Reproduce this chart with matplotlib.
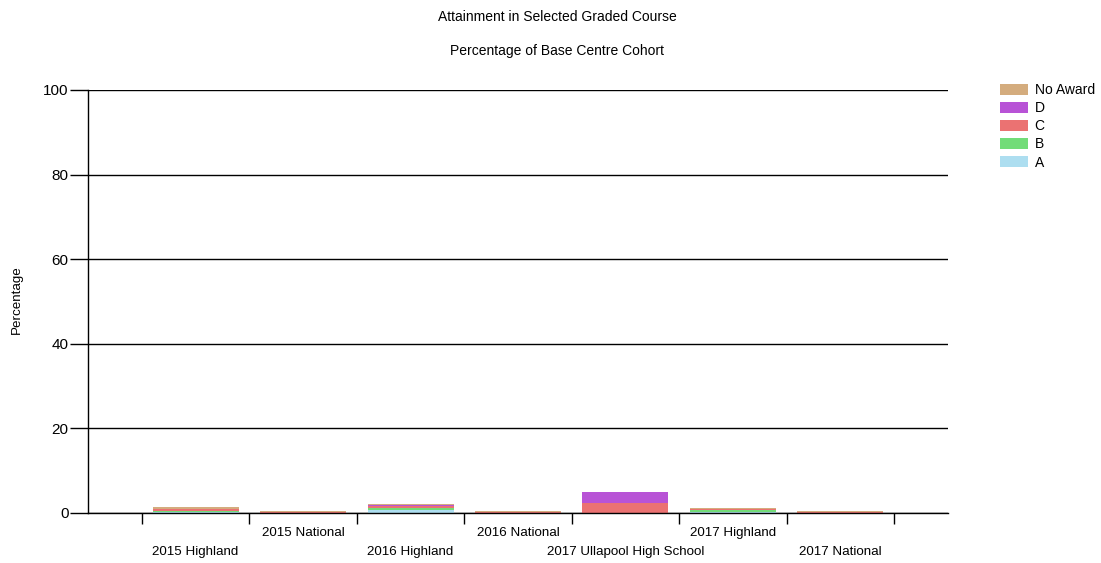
import numpy as np
import matplotlib.pyplot as plt
import matplotlib.transforms as mtransforms

plt.rcParams['font.family'] = ['Liberation Sans', 'DejaVu Sans']

categories = ['2015 Highland', '2015 National', '2016 Highland', '2016 National',
              '2017 Ullapool High School', '2017 Highland', '2017 National']

# percentage of cohort per grade, stacked bottom (A) to top (No Award)
grade_a = [0.25, 0.05, 0.6, 0.05, 0.0, 0.3, 0.05]
grade_b = [0.3, 0.05, 0.5, 0.05, 0.0, 0.3, 0.05]
grade_c = [0.3, 0.05, 0.5, 0.05, 2.44, 0.3, 0.05]
grade_d = [0.2, 0.03, 0.3, 0.03, 2.44, 0.1, 0.03]
no_award = [0.3, 0.2, 0.3, 0.2, 0.0, 0.3, 0.2]

series = [('A', grade_a, '#ADDEF0'),
          ('B', grade_b, '#72DC78'),
          ('C', grade_c, '#EB7272'),
          ('D', grade_d, '#B853D6'),
          ('No Award', no_award, '#D4AC7E')]

fig = plt.figure(figsize=(11.01, 5.63), dpi=100)
ax = fig.add_axes([88 / 1101, 1 - 513 / 563, 860 / 1101, 423 / 563])

x = np.arange(1, len(categories) + 1)
bottom = np.zeros(len(categories))
handles = []
for name, vals, col in series:
    vals = np.array(vals)
    h = ax.bar(x, vals, width=0.8, bottom=bottom, color=col, edgecolor='none', label=name)
    handles.append(h)
    bottom += vals

ax.set_xlim(0, 8)
ax.set_ylim(0, 100)
ax.set_yticks([0, 20, 40, 60, 80, 100])
ax.tick_params(axis='y', length=13, width=1, labelsize=11, pad=1)
ax.yaxis.grid(True, color='black', linewidth=1)
ax.set_axisbelow(True)

# category boundaries as ticks, names staggered in two rows
ax.set_xticks(np.arange(0.5, 8, 1))
ax.set_xticklabels([])
ax.tick_params(axis='x', length=8, width=1)
trans = mtransforms.blended_transform_factory(ax.transData, ax.transAxes)
for i, name in enumerate(categories):
    yoff = -0.092 if i % 2 == 0 else -0.047
    ax.text(x[i], yoff, name, transform=trans, ha='center', va='center', fontsize=9.6)

for side in ['top', 'right']:
    ax.spines[side].set_visible(False)
for side in ['left', 'bottom']:
    ax.spines[side].set_linewidth(1)

fig.text(17 / 1101, 1 - 300 / 563, 'Percentage', rotation=90,
         ha='center', va='center', fontsize=9.6)

fig.text(557 / 1101, 1 - 17 / 563, 'Attainment in Selected Graded Course',
         ha='center', va='center', fontsize=10)
fig.text(557 / 1101, 1 - 51 / 563, 'Percentage of Base Centre Cohort',
         ha='center', va='center', fontsize=10)

leg = fig.legend(handles[::-1], [s[0] for s in series][::-1],
                 loc='upper left', bbox_to_anchor=(1000 / 1101, 1 - 83 / 563),
                 frameon=False, fontsize=10, handlelength=2.0, handleheight=0.85,
                 labelspacing=0.3, handletextpad=0.5, borderaxespad=0, borderpad=0)

fig.savefig('out.png', dpi=100)
